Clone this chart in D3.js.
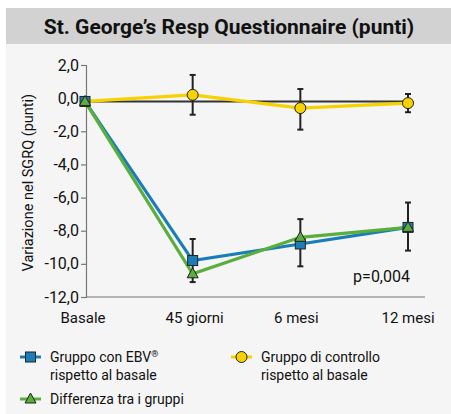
<!DOCTYPE html>
<html>
<head>
<meta charset="utf-8">
<script src="https://cdn.jsdelivr.net/npm/d3@7"></script>
<style>
  body { margin: 0; background: #fff; }
  svg text { font-family: 'Roboto', sans-serif; fill: #111; }
</style>
</head>
<body>
<div id="chart"></div>
<script>
const categories = ['Basale', '45 giorni', '6 mesi', '12 mesi']
const yTicks = [2, 0, -2, -4, -6, -8, -10, -12]

const ebvValues = [-0.2, -9.8, -8.8, -7.8]
const ebvErrLow = [null, -11.1, -10.15, -9.2]
const ebvErrHigh = [null, -8.5, -7.3, -6.3]

const controlValues = [-0.2, 0.2, -0.6, -0.3]
const controlErrLow = [null, -1.0, -1.9, -0.85]
const controlErrHigh = [null, 1.4, 0.55, 0.25]

const diffValues = [-0.2, -10.6, -8.4, -7.8]

const baselineValue = -0.2
const pValue = 'p=0,004'

const canvasWidth = 451
const canvasHeight = 414

const svg = d3.select('#chart')
  .append('svg')
  .attr('width', canvasWidth)
  .attr('height', canvasHeight)

// panel and title band
svg.append('rect')
  .attr('x', 6).attr('y', 8)
  .attr('width', canvasWidth - 6).attr('height', canvasHeight - 8)
  .attr('fill', '#f5f5f5')
svg.append('rect')
  .attr('x', 6).attr('y', 8)
  .attr('width', canvasWidth - 6).attr('height', 36)
  .attr('fill', '#d2d2d2')
svg.append('text')
  .attr('x', 229).attr('y', 34)
  .attr('text-anchor', 'middle')
  .attr('font-size', '21px')
  .attr('font-weight', 'bold')
  .text('St. George’s Resp Questionnaire (punti)')

const xScale = d3.scalePoint()
  .domain(categories)
  .range([85, 408])

const yScale = d3.scaleLinear()
  .domain([-12, 2])
  .range([297, 65])

// y axis
const yAxis = svg.append('g')
  .attr('transform', 'translate(86, 0)')
  .call(d3.axisLeft(yScale)
    .tickValues(yTicks)
    .tickSize(5)
    .tickFormat(d => d3.format('.1f')(d).replace('.', ',').replace('−', '-')))
yAxis.select('.domain').attr('stroke', '#777').attr('stroke-width', 1.2)
yAxis.selectAll('.tick line').attr('stroke', '#777').attr('stroke-width', 1.2)
yAxis.selectAll('.tick text')
  .attr('x', -7)
  .attr('font-size', '16px')
  .attr('font-family', "'Roboto', sans-serif")
  .attr('fill', '#111')

// x axis line
svg.append('line')
  .attr('x1', 86).attr('x2', 425)
  .attr('y1', yScale(-12)).attr('y2', yScale(-12))
  .attr('stroke', '#777').attr('stroke-width', 1.2)

svg.selectAll('text.xlabel')
  .data(categories)
  .enter()
  .append('text')
  .attr('class', 'xlabel')
  .attr('x', (d, i) => xScale(d) + [-2, 2, -4, 0][i])
  .attr('y', 323)
  .attr('text-anchor', 'middle')
  .attr('font-size', '15px')
  .text(d => d)

svg.append('text')
  .attr('transform', `translate(33, ${yScale(-5.1)}) rotate(-90)`)
  .attr('text-anchor', 'middle')
  .attr('font-size', '14.5px')
  .text('Variazione nel SGRQ (punti)')

// baseline reference line
svg.append('line')
  .attr('x1', xScale(categories[0])).attr('x2', xScale(categories[3]))
  .attr('y1', yScale(baselineValue)).attr('y2', yScale(baselineValue))
  .attr('stroke', '#333').attr('stroke-width', 2)

const line = d3.line()
  .x((d, i) => xScale(categories[i]))
  .y(d => yScale(d))

const drawSeries = (values, color) => {
  svg.append('path')
    .datum(values)
    .attr('d', line)
    .attr('fill', 'none')
    .attr('stroke', color)
    .attr('stroke-width', 3.2)
}

const drawErrors = (low, high) => {
  const g = svg.append('g')
  categories.forEach((c, i) => {
    if (low[i] === null) return
    const x = xScale(c)
    g.append('line')
      .attr('x1', x).attr('x2', x)
      .attr('y1', yScale(high[i])).attr('y2', yScale(low[i]))
      .attr('stroke', '#222').attr('stroke-width', 2)
    ;[low[i], high[i]].forEach(v => {
      g.append('line')
        .attr('x1', x - 3).attr('x2', x + 3)
        .attr('y1', yScale(v)).attr('y2', yScale(v))
        .attr('stroke', '#222').attr('stroke-width', 2)
    })
  })
}

const blue = '#1a7db8'
const yellow = '#f7d200'
const green = '#5aae3c'

const squareMarker = (g, x, y) => g.append('rect')
  .attr('x', x - 5).attr('y', y - 5)
  .attr('width', 10).attr('height', 10)
  .attr('fill', blue).attr('stroke', '#222').attr('stroke-width', 1)
const circleMarker = (g, x, y) => g.append('circle')
  .attr('cx', x).attr('cy', y).attr('r', 5.5)
  .attr('fill', yellow).attr('stroke', '#222').attr('stroke-width', 1)
const triangleMarker = (g, x, y) => g.append('path')
  .attr('d', `M${x},${y - 6}L${x + 5.5},${y + 4}L${x - 5.5},${y + 4}Z`)
  .attr('fill', green).attr('stroke', '#222').attr('stroke-width', 1)

drawErrors(controlErrLow, controlErrHigh)
drawErrors(ebvErrLow, ebvErrHigh)

drawSeries(controlValues, yellow)
drawSeries(ebvValues, blue)
drawSeries(diffValues, green)

const markers = svg.append('g')
controlValues.forEach((v, i) => { if (i > 0) circleMarker(markers, xScale(categories[i]), yScale(v)) })
ebvValues.forEach((v, i) => squareMarker(markers, xScale(categories[i]), yScale(v)))
diffValues.forEach((v, i) => triangleMarker(markers, xScale(categories[i]), yScale(v)))

svg.append('text')
  .attr('x', 410).attr('y', 282)
  .attr('text-anchor', 'end')
  .attr('font-size', '16px')
  .text(pValue)

// legend
const legendItems = [
  {x: 20, y: 357, color: blue, marker: squareMarker, lines: ['Gruppo con EBV', 'rispetto al basale'], sup: '®'},
  {x: 231, y: 357, color: yellow, marker: circleMarker, lines: ['Gruppo di controllo', 'rispetto al basale']},
  {x: 20, y: 399, color: green, marker: triangleMarker, lines: ['Differenza tra i gruppi']},
]
legendItems.forEach(item => {
  const g = svg.append('g')
  g.append('line')
    .attr('x1', item.x).attr('x2', item.x + 21)
    .attr('y1', item.y).attr('y2', item.y)
    .attr('stroke', item.color).attr('stroke-width', 3)
  item.marker(g, item.x + 10.5, item.y)
  item.lines.forEach((l, i) => {
    const t = g.append('text')
      .attr('x', item.x + 30)
      .attr('y', item.y + 5 + i * 18)
      .attr('font-size', '14px')
      .text(l)
    if (i === 0 && item.sup) {
      t.append('tspan')
        .attr('font-size', '9px')
        .attr('baseline-shift', '5')
        .text(item.sup)
    }
  })
})
</script>
</body>
</html>
